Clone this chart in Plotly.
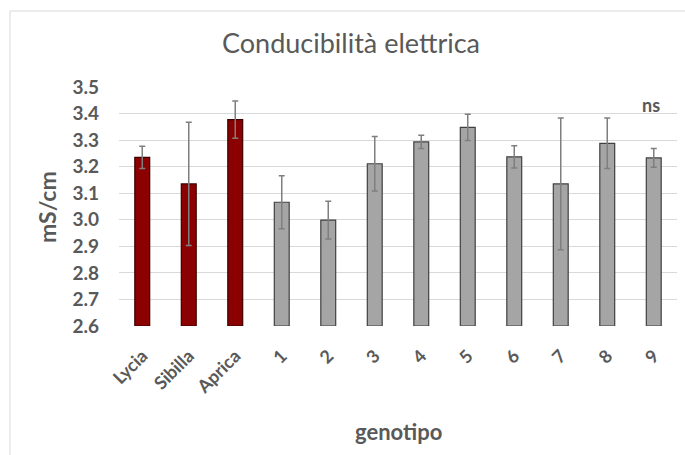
import plotly.graph_objects as go

# Genotypes and measured electrical conductivity (mean ± error)
genotipi = ["Lycia", "Sibilla", "Aprica", "1", "2", "3", "4", "5", "6", "7", "8", "9"]
conducibilita = [3.235, 3.135, 3.377, 3.066, 2.999, 3.211, 3.293, 3.348, 3.237, 3.135, 3.288, 3.233]
errore = [0.042, 0.232, 0.070, 0.100, 0.071, 0.103, 0.025, 0.049, 0.042, 0.248, 0.095, 0.035]
varieta_commerciali = ["Lycia", "Sibilla", "Aprica"]

W, H = 685, 455
ML, MR, MT, MB = 119, 8, 87, 129

FONT = "Lato"
TXT = "#595959"

colori = ["#8B0000" if g in varieta_commerciali else "#A5A5A5" for g in genotipi]
bordi = ["#3A0000" if g in varieta_commerciali else "#404040" for g in genotipi]

fig = go.Figure()
fig.add_trace(go.Bar(
    x=genotipi,
    y=[v - 2.6 for v in conducibilita],
    base=2.6,
    marker=dict(color=colori, line=dict(color=bordi, width=1.2)),
    error_y=dict(type="data", array=errore, color="#7F7F7F", thickness=1.5, width=3),
    hoverinfo="skip",
))


def px_x(p):
    return (p - ML) / (W - ML - MR)


def px_y(p):
    return (H - MB - p) / (H - MT - MB)


# light chart-area frame
fig.add_shape(type="rect", xref="paper", yref="paper",
              x0=px_x(10), y0=px_y(470), x1=px_x(700), y1=px_y(11),
              line=dict(color="#D9D9D9", width=1), fillcolor="rgba(0,0,0,0)", layer="below")

# significance note above the last genotype
fig.add_annotation(text="ns", x=genotipi.index("9"), y=3.431, xref="x", yref="y",
                   showarrow=False, xshift=-3,
                   font=dict(family=FONT, size=18, color=TXT, weight="bold"))

# axis titles
fig.add_annotation(text="genotipo", x=px_x(398), y=px_y(431), xref="paper", yref="paper",
                   showarrow=False, xanchor="center", yanchor="middle",
                   font=dict(family=FONT, size=22, color=TXT, weight="bold"))
fig.add_annotation(text="mS/cm", x=px_x(47), y=px_y(207), xref="paper", yref="paper",
                   showarrow=False, xanchor="center", yanchor="middle", textangle=-90,
                   font=dict(family=FONT, size=23, color=TXT, weight="bold"))

fig.update_layout(
    width=W, height=H,
    margin=dict(l=ML, r=MR, t=MT, b=MB),
    paper_bgcolor="white", plot_bgcolor="white",
    showlegend=False,
    bargap=0.68,
    title=dict(text="Conducibilità elettrica", x=(351 / W), xanchor="center",
               y=1 - 44 / H, yanchor="middle",
               font=dict(family=FONT, size=27, color=TXT)),
    xaxis=dict(
        tickangle=-45,
        tickfont=dict(family=FONT, size=18, color=TXT, weight="bold"),
        ticklabelstandoff=15,
        showgrid=False, showline=False, ticks="",
    ),
    yaxis=dict(
        range=[2.6, 3.5],
        dtick=0.1, tick0=2.6, tickformat=".1f",
        tickfont=dict(family=FONT, size=19, color=TXT, weight="bold"),
        ticklabelstandoff=19,
        showgrid=True, gridcolor="#D9D9D9", gridwidth=1,
        zeroline=False, showline=False, ticks="", ticklen=0,
    ),
)

fig.write_html("out.html")
